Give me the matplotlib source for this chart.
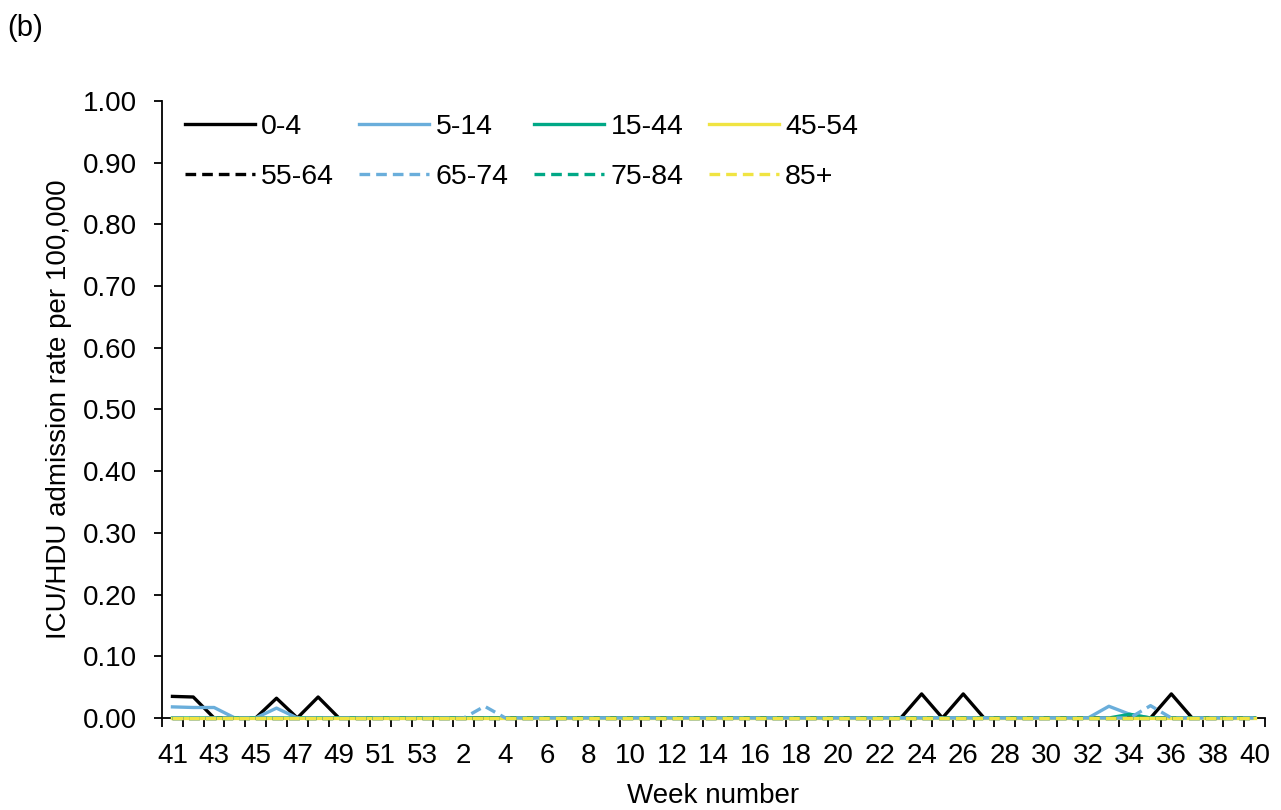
import matplotlib
matplotlib.use("Agg")
import matplotlib.pyplot as plt
import numpy as np

plt.rcParams['font.family'] = ['Liberation Sans', 'DejaVu Sans']

# weeks 41..53 then 1..40
weeks = list(range(41, 54)) + list(range(1, 41))
n = len(weeks)

def series(points):
    vals = [0.0] * n
    for wk, v in points.items():
        vals[weeks.index(wk)] = v
    return vals

age_0_4 = series({41: 0.035, 42: 0.034, 46: 0.032, 48: 0.034, 24: 0.039, 26: 0.039, 36: 0.039})
age_5_14 = series({41: 0.018, 42: 0.017, 43: 0.017, 46: 0.016, 33: 0.019, 34: 0.006})
age_15_44 = series({34: 0.006})
age_45_54 = series({})
age_55_64 = series({})
age_65_74 = series({3: 0.019, 35: 0.02})
age_75_84 = series({})
age_85 = series({})

labels = ["0-4", "5-14", "15-44", "45-54", "55-64", "65-74", "75-84", "85+"]
data = [age_0_4, age_5_14, age_15_44, age_45_54, age_55_64, age_65_74, age_75_84, age_85]
colors = ["#000000", "#6aaedb", "#00a886", "#f0e442"] * 2
styles = ["-"] * 4 + [(0, (3.2, 1.8))] * 4

fs = 20
fig = plt.figure(figsize=(12.81, 8.10), dpi=100)
ax = fig.add_axes([0.1265, 0.1136, 0.861, 0.7617])

x = np.arange(n)
lines = []
for vals, lab, c, ls in zip(data, labels, colors, styles):
    ln, = ax.plot(x, vals, color=c, linestyle=ls, linewidth=2.4, label=lab,
                  zorder=3, clip_on=False)
    lines.append(ln)

ax.set_xlim(-0.5, n - 0.5)
ax.set_ylim(0, 1.0)
ax.set_yticks(np.arange(0, 1.01, 0.1))
ax.set_yticklabels(["%.2f" % v for v in np.arange(0, 1.01, 0.1)])
ax.set_xticks(x[::2])
ax.set_xticklabels([str(w) for w in weeks[::2]])
ax.set_xticks(np.arange(-0.5, n, 1.0), minor=True)
ax.tick_params(axis='x', which='major', length=0, labelsize=fs, pad=18)
ax.tick_params(axis='x', which='minor', length=6.5, width=1.3, direction='out')
ax.tick_params(axis='y', length=6, width=1.3, labelsize=fs, pad=12)

for s in ['top', 'right']:
    ax.spines[s].set_visible(False)
for s in ['left', 'bottom']:
    ax.spines[s].set_linewidth(1.3)

ax.set_ylabel("ICU/HDU admission rate per 100,000", fontsize=fs, labelpad=8)
ax.set_xlabel("Week number", fontsize=fs, labelpad=10)

order = [0, 4, 1, 5, 2, 6, 3, 7]
ax.legend([lines[i] for i in order], [labels[i] for i in order], ncol=4,
          loc='upper left', bbox_to_anchor=(0.0205, 0.979), frameon=False,
          borderaxespad=0, borderpad=0,
          fontsize=20.5, handlelength=2.46, handletextpad=0.23,
          columnspacing=0.88, labelspacing=0.86)

fig.text(0.0055, 0.966, "(b)", fontsize=21, va='center')

fig.savefig("out.png", dpi=100)
